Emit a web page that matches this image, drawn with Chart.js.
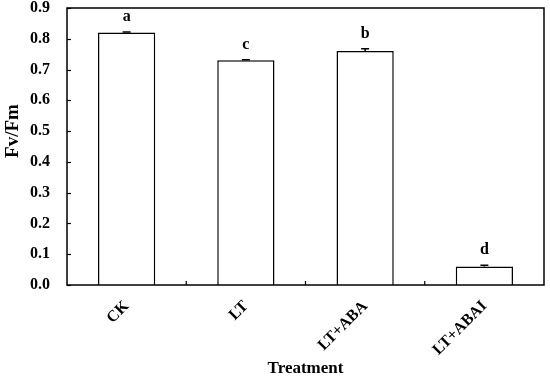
<!DOCTYPE html>
<html><head><meta charset="utf-8">
<script src="https://cdn.jsdelivr.net/npm/chart.js@4/dist/chart.umd.min.js"></script>
<style>html,body{margin:0;padding:0;background:#fff}#wrap{width:550px;height:383px}</style>
</head><body><div id="wrap"><canvas id="c" width="550" height="383"></canvas></div>
<script>
const categories = ["CK", "LT", "LT+ABA", "LT+ABAI"];
const fvfm = [0.82, 0.73, 0.76, 0.06];
const errors = [0.002, 0.002, 0.008, 0.004];
const letters = ["a", "c", "b", "d"];
const yTicks = [0.0, 0.1, 0.2, 0.3, 0.4, 0.5, 0.6, 0.7, 0.8, 0.9];
const yTitle = "Fv/Fm";
const xTitle = "Treatment";

const FONT = "'Liberation Serif', 'Times New Roman', serif";

const decor = {
  id: 'decor',
  afterDatasetsDraw(chart) {
    const ctx = chart.ctx, a = chart.chartArea;
    const xs = chart.scales.x, ys = chart.scales.y;
    ctx.save();
    ctx.strokeStyle = '#000';
    ctx.lineWidth = 1.5;
    const meta = chart.getDatasetMeta(0);
    meta.data.forEach((bar, i) => {
      const x = bar.x;
      const yT = ys.getPixelForValue(fvfm[i] + errors[i]);
      const yB = ys.getPixelForValue(fvfm[i]);
      ctx.beginPath();
      ctx.moveTo(x, yB); ctx.lineTo(x, yT);
      ctx.moveTo(x - 4, yT); ctx.lineTo(x + 4, yT);
      ctx.stroke();
      ctx.fillStyle = '#000';
      ctx.font = "bold 16px " + FONT;
      ctx.textAlign = 'center';
      ctx.textBaseline = 'bottom';
      ctx.fillText(letters[i], x, yT - 7);
    });
    ctx.lineWidth = 1.2;
    yTicks.forEach(v => {
      const y = Math.round(ys.getPixelForValue(v)) + 0.5;
      ctx.beginPath(); ctx.moveTo(a.left, y); ctx.lineTo(a.left + 4, y); ctx.stroke();
    });
    for (let i = 0; i < categories.length - 1; i++) {
      const x = (xs.getPixelForValue(i) + xs.getPixelForValue(i + 1)) / 2;
      ctx.beginPath(); ctx.moveTo(x, a.bottom); ctx.lineTo(x, a.bottom - 4); ctx.stroke();
    }
    ctx.lineWidth = 1.5;
    ctx.strokeRect(a.left, a.top, a.right - a.left, a.bottom - a.top);
    // y axis title
    ctx.translate(13, 131);
    ctx.rotate(-Math.PI / 2);
    ctx.fillStyle = '#000';
    ctx.font = "bold 19px " + FONT;
    ctx.textAlign = 'center';
    ctx.textBaseline = 'middle';
    ctx.fillText(yTitle, 0, 0);
    ctx.restore();
  }
};

new Chart(document.getElementById('c'), {
  type: 'bar',
  data: {
    labels: categories,
    datasets: [{
      data: fvfm,
      backgroundColor: '#ffffff',
      borderColor: '#000000',
      borderWidth: 1.5,
      categoryPercentage: 1.0,
      barPercentage: 0.48
    }]
  },
  options: {
    responsive: false,
    animation: false,
    layout: { padding: { left: 0, right: 6, top: 8, bottom: 0 } },
    plugins: { legend: { display: false }, tooltip: { enabled: false } },
    scales: {
      x: {
        grid: { display: false, drawTicks: false },
        border: { display: false },
        ticks: {
          color: '#000', maxRotation: 45, minRotation: 45, padding: 12,
          font: { family: FONT, size: 16, weight: 'bold' }
        },
        title: { display: true, text: xTitle, color: '#000', padding: { top: 0, bottom: 4 },
          font: { family: FONT, size: 17, weight: 'bold' } },
        afterFit(s) { s.height = 98; s.paddingLeft = 0; s.paddingRight = 0; }
      },
      y: {
        min: 0, max: 0.9,
        grid: { display: false, drawTicks: false },
        border: { display: false },
        afterBuildTicks(s) { s.ticks = yTicks.map(v => ({ value: v })); },
        ticks: {
          color: '#000', padding: 17,
          font: { family: FONT, size: 16, weight: 'bold' },
          callback: v => Number(v).toFixed(1)
        },
        title: { display: false },
        afterFit(s) { s.width = 67; s.paddingTop = 0; s.paddingBottom = 0; }
      }
    }
  },
  plugins: [decor]
});
</script></body></html>
